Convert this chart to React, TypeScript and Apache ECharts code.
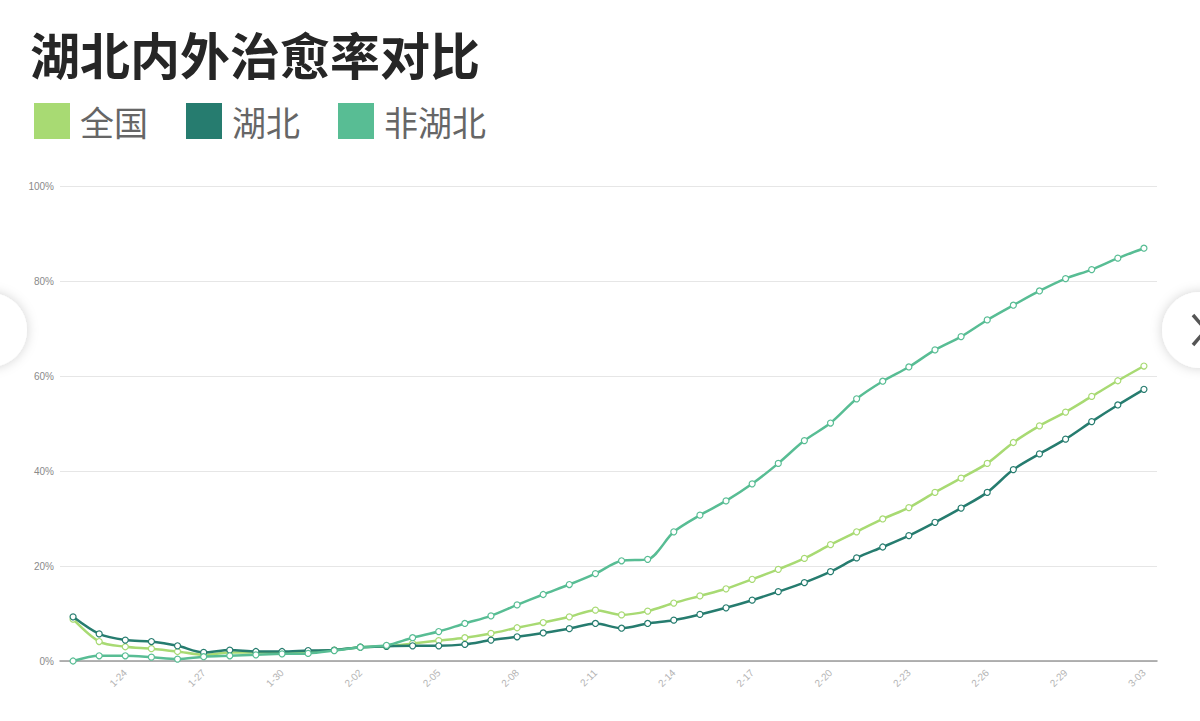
import React, { useEffect, useRef } from "react";
import * as echarts from "echarts";

const dates = [
  "1-22", "1-23", "1-24", "1-25", "1-26", "1-27", "1-28", "1-29", "1-30", "1-31",
  "2-01", "2-02", "2-03", "2-04", "2-05", "2-06", "2-07", "2-08", "2-09", "2-10",
  "2-11", "2-12", "2-13", "2-14", "2-15", "2-16", "2-17", "2-18", "2-19", "2-20",
  "2-21", "2-22", "2-23", "2-24", "2-25", "2-26", "2-27", "2-28", "2-29", "3-01",
  "3-02", "3-03",
];

const national = [
  8.8, 4.1, 3.0, 2.6, 2.0, 1.3, 1.8, 1.8, 1.8, 2.0,
  2.3, 2.9, 3.1, 3.7, 4.3, 4.9, 5.8, 7.0, 8.1, 9.3,
  10.7, 9.7, 10.5, 12.2, 13.7, 15.2, 17.2, 19.3, 21.6, 24.5,
  27.2, 29.9, 32.3, 35.5, 38.5, 41.6, 46.0, 49.5, 52.4, 55.7,
  59.0, 62.1,
];

const hubei = [
  9.3, 5.7, 4.4, 4.1, 3.2, 1.8, 2.3, 2.0, 2.0, 2.2,
  2.3, 2.9, 3.1, 3.2, 3.2, 3.5, 4.4, 5.1, 5.9, 6.8,
  7.9, 6.9, 7.9, 8.6, 9.8, 11.2, 12.8, 14.6, 16.5, 18.8,
  21.7, 24.0, 26.4, 29.2, 32.2, 35.5, 40.3, 43.6, 46.7, 50.4,
  53.9, 57.2,
];

const nonHubei = [
  0, 1.1, 1.1, 0.8, 0.4, 0.9, 1.1, 1.3, 1.5, 1.6,
  2.2, 2.9, 3.3, 4.9, 6.2, 7.9, 9.5, 11.8, 14.0, 16.1,
  18.4, 21.1, 21.4, 27.2, 30.7, 33.7, 37.3, 41.6, 46.4, 50.1,
  55.2, 58.9, 61.9, 65.5, 68.3, 71.8, 74.9, 77.9, 80.5, 82.4,
  84.8, 86.9,
];

const seriesNames = ["全国", "湖北", "非湖北"];
const seriesColors = ["#a8da73", "#267c6f", "#58bd94"];
const seriesData = [national, hubei, nonHubei];

const TITLE = "湖北内外治愈率对比";

export default function App() {
  const ref = useRef<HTMLDivElement>(null);

  useEffect(() => {
    if (!ref.current) return;
    const chart = echarts.init(ref.current, undefined, { renderer: "svg" });
    chart.setOption({
      animation: false,
      backgroundColor: "#ffffff",
      title: {
        text: TITLE,
        left: 30,
        top: 28,
        padding: 0,
        textStyle: {
          fontFamily: "Noto Sans CJK SC",
          fontSize: 50,
          fontWeight: "bold",
          color: "#262626",
        },
      },
      legend: {
        left: 34,
        top: 103,
        padding: 0,
        icon: "rect",
        itemWidth: 36,
        itemHeight: 36,
        itemGap: 38,
        textStyle: {
          fontFamily: "Noto Sans CJK SC",
          fontSize: 34,
          color: "#666666",
          padding: [0, 0, 0, 5],
        },
        data: seriesNames.map((n, i) => ({
          name: n,
          itemStyle: { color: seriesColors[i], borderWidth: 0 },
        })),
      },
      grid: { left: 60, right: 43, top: 186, bottom: 60, containLabel: false },
      xAxis: {
        type: "category",
        data: dates,
        boundaryGap: true,
        axisLine: { show: true, lineStyle: { color: "#9a9a9a", width: 1.5 } },
        axisTick: { show: false },
        axisLabel: {
          rotate: 45,
          interval: (idx: number) => idx % 3 === 2,
          color: "#b4b4b4",
          fontSize: 10,
          fontFamily: "Liberation Sans, Arial, sans-serif",
          margin: 10,
        },
      },
      yAxis: {
        type: "value",
        min: 0,
        max: 100,
        interval: 20,
        axisLine: { show: false },
        axisTick: { show: false },
        splitLine: { lineStyle: { color: "#e6e6e6", width: 1 } },
        axisLabel: {
          formatter: "{value}%",
          color: "#8a8a8a",
          fontSize: 10,
          fontFamily: "Liberation Sans, Arial, sans-serif",
          margin: 6,
        },
      },
      series: seriesNames.map((n, i) => ({
        name: n,
        type: "line",
        data: seriesData[i],
        smooth: 0.3,
        symbol: "circle",
        symbolSize: 6,
        showSymbol: true,
        lineStyle: { color: seriesColors[i], width: 2.5 },
        itemStyle: { color: "#ffffff", borderColor: seriesColors[i], borderWidth: 1.2 },
        z: 2 + i,
      })),
      graphic: [
        {
          type: "circle",
          shape: { cx: -10, cy: 330, r: 37 },
          style: { fill: "#ffffff", shadowBlur: 12, shadowColor: "rgba(0,0,0,0.18)" },
          z: 100,
        },
        {
          type: "circle",
          shape: { cx: 1200, cy: 330, r: 38 },
          style: { fill: "#ffffff", shadowBlur: 12, shadowColor: "rgba(0,0,0,0.18)" },
          z: 100,
        },
        {
          type: "polyline",
          shape: { points: [[1193, 315], [1206, 330], [1193, 345]] },
          style: { stroke: "#555555", lineWidth: 3.5, fill: "none" },
          z: 101,
        },
      ],
    });
    return () => chart.dispose();
  }, []);

  return (
    <div
      ref={ref}
      style={{ position: "fixed", left: 0, top: 0, width: 1200, height: 721, background: "#fff" }}
    />
  );
}
